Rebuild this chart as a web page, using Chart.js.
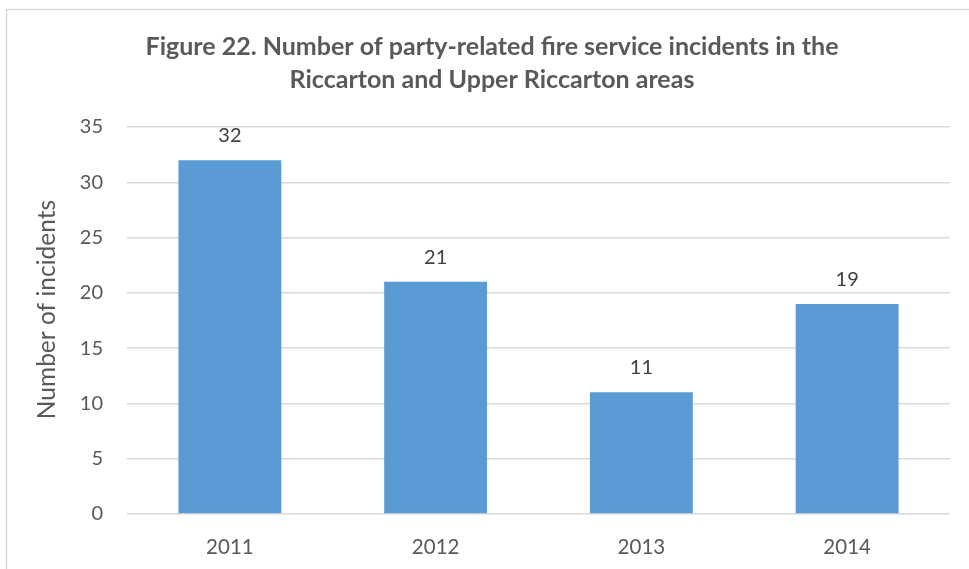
<!DOCTYPE html>
<html><head><meta charset="utf-8">
<script src="https://cdn.jsdelivr.net/npm/chart.js@4/dist/chart.umd.min.js"></script>
<style>html,body{margin:0;padding:0;background:#fff}#wrap{width:969px;height:569px;position:relative}</style>
</head><body><div id="wrap"><canvas id="c"></canvas></div>
<script>
const categories = ['2011','2012','2013','2014'];
const incidents = [32, 21, 11, 19];
const yTicks = [0,5,10,15,20,25,30,35];
const titleLines = ['Figure 22. Number of party-related fire service incidents in the','Riccarton and Upper Riccarton areas'];
const yTitle = 'Number of incidents';

const FONT = 'Lato, "Open Sans", sans-serif';

const frame = {
  id:'frame',
  beforeDraw(chart){
    const c = chart.ctx; c.save();
    c.strokeStyle = '#d9d9d9'; c.lineWidth = 1.5;
    c.strokeRect(6.5, 9.5, 1000, 600);
    c.restore();
  }
};
const labels = {
  id:'labels',
  afterDatasetsDraw(chart){
    const c = chart.ctx; c.save();
    c.font = '20px ' + FONT; c.fillStyle = '#404040';
    c.textAlign='center'; c.textBaseline='alphabetic';
    const meta = chart.getDatasetMeta(0);
    meta.data.forEach((b,i)=>{ c.fillText(String(chart.data.datasets[0].data[i]), b.x, b.y - 18); });
    c.restore();
  }
};
const yAxisTitle = {
  id:'yAxisTitle',
  afterDraw(chart){
    const c = chart.ctx, ca = chart.chartArea; c.save();
    c.font = '24.5px ' + FONT; c.fillStyle = '#595959';
    c.textAlign='center'; c.textBaseline='middle';
    c.translate(chart.scales.y.left + 13, (ca.top + ca.bottom)/2 - 11);
    c.rotate(-Math.PI/2);
    c.fillText(yTitle, 0, 0);
    c.restore();
  }
};

new Chart(document.getElementById('c'), {
  type:'bar',
  data:{ labels: categories, datasets:[{ data: incidents, backgroundColor:'#5b9bd5', barPercentage:0.5, categoryPercentage:1.0 }]},
  options:{
    responsive:true, maintainAspectRatio:false, animation:false,
    layout:{ padding:{ left:34, right:19, top:30, bottom:3 } },
    plugins:{
      legend:{display:false}, tooltip:{enabled:false},
      title:{ display:true, text:titleLines, color:'#595959', font:{family:FONT, size:25, weight:'bold', lineHeight:1.32}, padding:{top:0,bottom:31} }
    },
    scales:{
      x:{ grid:{display:false, drawTicks:false}, border:{display:false},
          afterFit(s){ s.height = 52; },
          ticks:{ color:'#595959', font:{family:FONT, size:20.5}, padding:21, maxRotation:0 } },
      y:{ min:0, max:35, afterBuildTicks(s){ s.ticks = yTicks.map(v=>({value:v})); },
          afterFit(s){ s.width = 93; },
          grid:{ color:'#d9d9d9', lineWidth:1.5, drawTicks:false }, border:{display:false},
          ticks:{ color:'#595959', font:{family:FONT, size:20}, padding:24 },
          title:{ display:false } }
    }
  },
  plugins:[frame, labels, yAxisTitle]
});
</script></body></html>
